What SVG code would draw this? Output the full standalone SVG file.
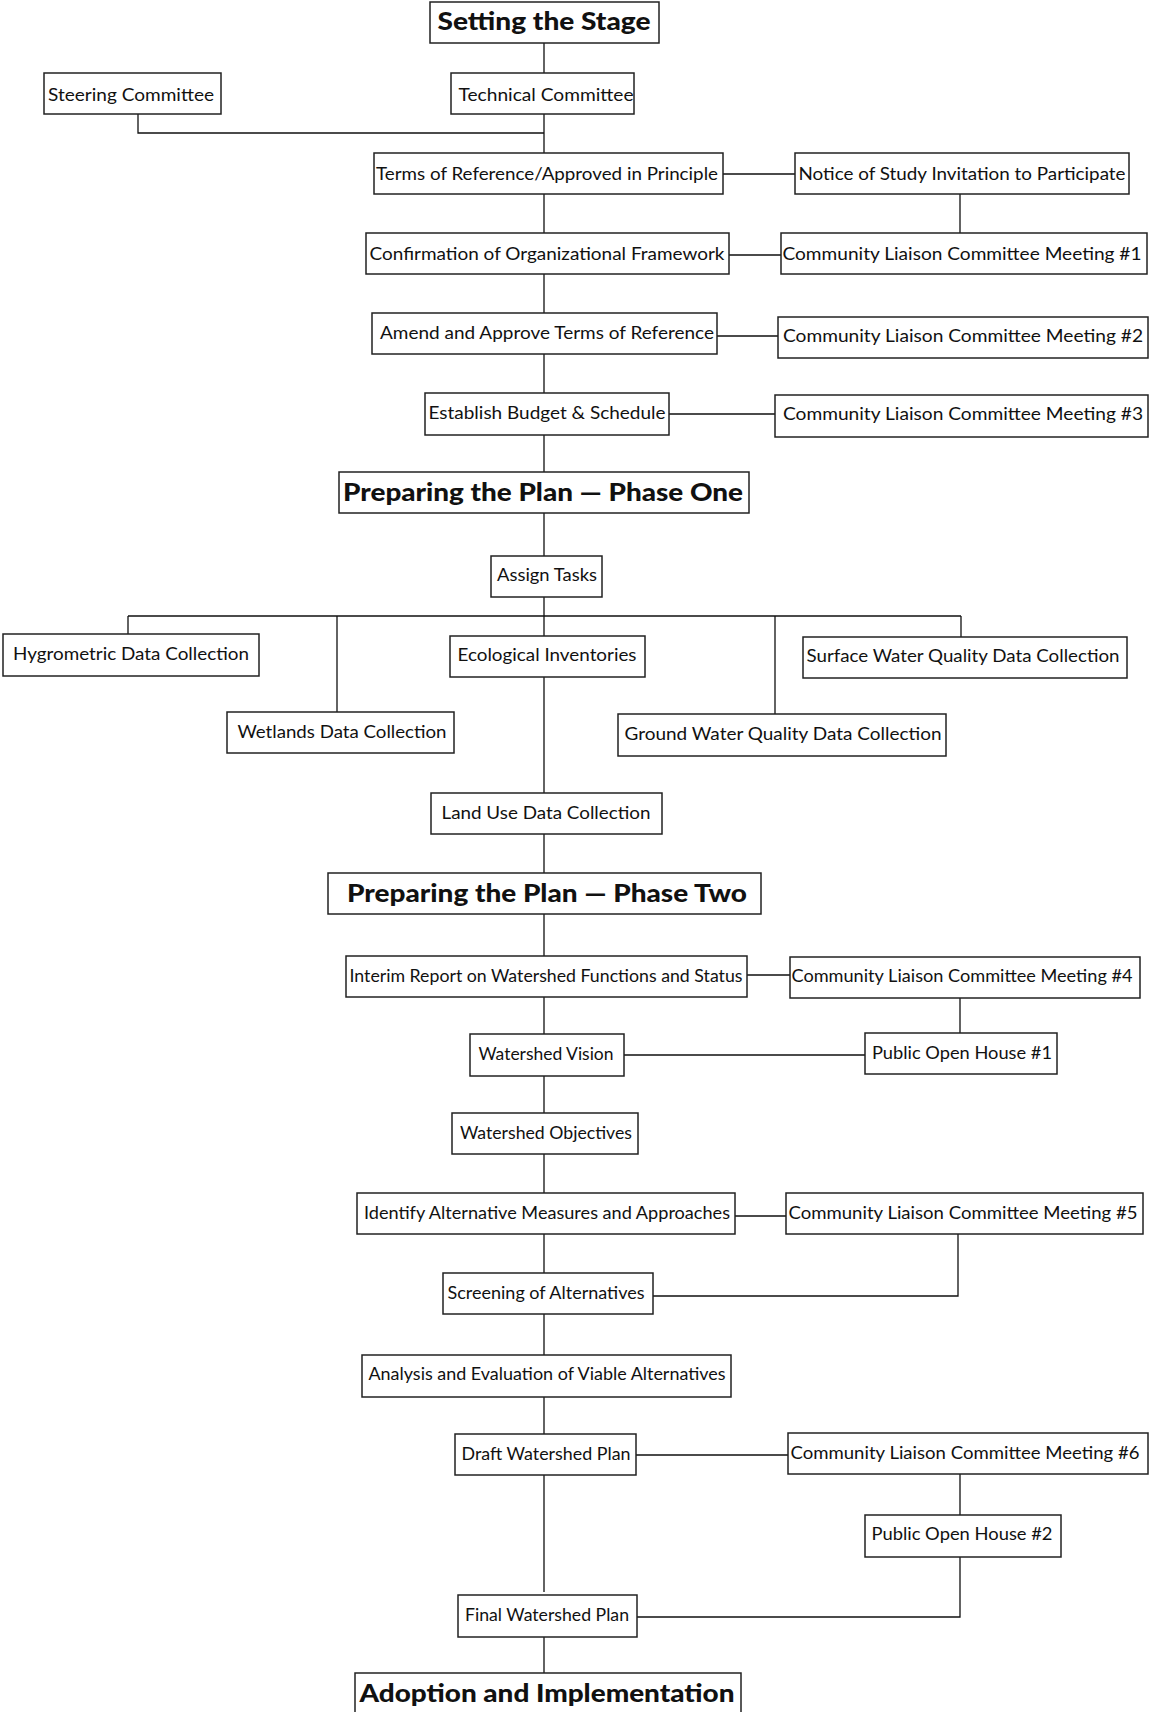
<svg xmlns="http://www.w3.org/2000/svg" width="1149" height="1712" viewBox="0 0 1149 1712">
<style>
rect{fill:#fff;stroke:#222;stroke-width:1.5}
text{font-family:Lato,"Open Sans","Liberation Sans",sans-serif;font-size:18px;fill:#111;text-anchor:middle}
text.t{font-weight:900;font-size:24px}
#connectors path{fill:none;stroke:#111;stroke-width:1.3}
</style>
<rect x="0" y="0" width="1149" height="1712" style="fill:#fff;stroke:none"/>
<g id="connectors">
<path d="M544,43V73M544,114V153M138,114V133H544M723,174H795M960,194V233M544,194V233M729,255H781M544,274V313M717,336H778M544,354V393M669,414H775M544,435V472M544,513V556M544,597V616M128,616H961M128,616V634M337,616V712M544,616V636M775,616V714M961,616V637M544,677V793M544,834V873M544,914V956M747,975H790M960,998V1033M544,997V1034M624,1055H865M544,1076V1113M544,1154V1193M735,1216H786M958,1234V1296H653M544,1234V1273M544,1314V1355M544,1397V1434M636,1455H788M960,1474V1515M544,1475V1592M960,1557V1617H637M544,1637V1673"/>
</g>
<g id="n-setting"><rect x="430" y="2" width="229" height="41"/><text class="t" x="544" y="30" textLength="213" lengthAdjust="spacingAndGlyphs">Setting the Stage</text></g>
<g id="n-steering"><rect x="44" y="73" width="177" height="41"/><text x="131" y="101" textLength="166" lengthAdjust="spacingAndGlyphs">Steering Committee</text></g>
<g id="n-technical"><rect x="451" y="73" width="183" height="41"/><text x="546" y="101" textLength="175" lengthAdjust="spacingAndGlyphs">Technical Committee</text></g>
<g id="n-terms"><rect x="374" y="153" width="349" height="41"/><text x="547" y="180" textLength="342" lengthAdjust="spacingAndGlyphs">Terms of Reference/Approved in Principle</text></g>
<g id="n-notice"><rect x="795" y="153" width="334" height="41"/><text x="962" y="180" textLength="327" lengthAdjust="spacingAndGlyphs">Notice of Study Invitation to Participate</text></g>
<g id="n-confirm"><rect x="366" y="233" width="363" height="41"/><text x="547" y="260" textLength="355" lengthAdjust="spacingAndGlyphs">Confirmation of Organizational Framework</text></g>
<g id="n-clc1"><rect x="781" y="233" width="366" height="41"/><text x="962" y="260" textLength="359" lengthAdjust="spacingAndGlyphs">Community Liaison Committee Meeting #1</text></g>
<g id="n-amend"><rect x="372" y="313" width="345" height="41"/><text x="547" y="339" textLength="334" lengthAdjust="spacingAndGlyphs">Amend and Approve Terms of Reference</text></g>
<g id="n-clc2"><rect x="778" y="317" width="370" height="41"/><text x="963" y="342" textLength="360" lengthAdjust="spacingAndGlyphs">Community Liaison Committee Meeting #2</text></g>
<g id="n-budget"><rect x="425" y="393" width="244" height="42"/><text x="547" y="419" textLength="237" lengthAdjust="spacingAndGlyphs">Establish Budget &amp; Schedule</text></g>
<g id="n-clc3"><rect x="775" y="395" width="373" height="42"/><text x="963" y="420" textLength="360" lengthAdjust="spacingAndGlyphs">Community Liaison Committee Meeting #3</text></g>
<g id="n-phase1"><rect x="339" y="472" width="410" height="41"/><text class="t" x="543" y="501" textLength="400" lengthAdjust="spacingAndGlyphs">Preparing the Plan — Phase One</text></g>
<g id="n-assign"><rect x="491" y="556" width="111" height="41"/><text x="547" y="581" textLength="100" lengthAdjust="spacingAndGlyphs">Assign Tasks</text></g>
<g id="n-hygro"><rect x="3" y="634" width="256" height="42"/><text x="131" y="660" textLength="236" lengthAdjust="spacingAndGlyphs">Hygrometric Data Collection</text></g>
<g id="n-ecol"><rect x="450" y="636" width="195" height="41"/><text x="547" y="661" textLength="179" lengthAdjust="spacingAndGlyphs">Ecological Inventories</text></g>
<g id="n-surface"><rect x="803" y="637" width="324" height="41"/><text x="963" y="662" textLength="313" lengthAdjust="spacingAndGlyphs">Surface Water Quality Data Collection</text></g>
<g id="n-wetlands"><rect x="227" y="712" width="227" height="41"/><text x="342" y="738" textLength="209" lengthAdjust="spacingAndGlyphs">Wetlands Data Collection</text></g>
<g id="n-ground"><rect x="618" y="714" width="328" height="42"/><text x="783" y="740" textLength="317" lengthAdjust="spacingAndGlyphs">Ground Water Quality Data Collection</text></g>
<g id="n-landuse"><rect x="431" y="793" width="231" height="41"/><text x="546" y="819" textLength="209" lengthAdjust="spacingAndGlyphs">Land Use Data Collection</text></g>
<g id="n-phase2"><rect x="328" y="873" width="433" height="41"/><text class="t" x="547" y="902" textLength="400" lengthAdjust="spacingAndGlyphs">Preparing the Plan — Phase Two</text></g>
<g id="n-interim"><rect x="346" y="956" width="401" height="41"/><text x="546" y="982" textLength="393" lengthAdjust="spacingAndGlyphs">Interim Report on Watershed Functions and Status</text></g>
<g id="n-clc4"><rect x="790" y="957" width="350" height="41"/><text x="962" y="982" textLength="341" lengthAdjust="spacingAndGlyphs">Community Liaison Committee Meeting #4</text></g>
<g id="n-vision"><rect x="470" y="1034" width="154" height="42"/><text x="546" y="1060" textLength="135" lengthAdjust="spacingAndGlyphs">Watershed Vision</text></g>
<g id="n-poh1"><rect x="865" y="1033" width="192" height="41"/><text x="962" y="1059" textLength="180" lengthAdjust="spacingAndGlyphs">Public Open House #1</text></g>
<g id="n-objectives"><rect x="452" y="1113" width="186" height="41"/><text x="546" y="1139" textLength="172" lengthAdjust="spacingAndGlyphs">Watershed Objectives</text></g>
<g id="n-identify"><rect x="357" y="1193" width="378" height="41"/><text x="547" y="1219" textLength="366" lengthAdjust="spacingAndGlyphs">Identify Alternative Measures and Approaches</text></g>
<g id="n-clc5"><rect x="786" y="1193" width="357" height="41"/><text x="963" y="1219" textLength="349" lengthAdjust="spacingAndGlyphs">Community Liaison Committee Meeting #5</text></g>
<g id="n-screening"><rect x="443" y="1273" width="210" height="41"/><text x="546" y="1299" textLength="197" lengthAdjust="spacingAndGlyphs">Screening of Alternatives</text></g>
<g id="n-analysis"><rect x="362" y="1355" width="369" height="42"/><text x="547" y="1380" textLength="357" lengthAdjust="spacingAndGlyphs">Analysis and Evaluation of Viable Alternatives</text></g>
<g id="n-draft"><rect x="455" y="1434" width="181" height="41"/><text x="546" y="1460" textLength="169" lengthAdjust="spacingAndGlyphs">Draft Watershed Plan</text></g>
<g id="n-clc6"><rect x="788" y="1433" width="360" height="41"/><text x="965" y="1459" textLength="349" lengthAdjust="spacingAndGlyphs">Community Liaison Committee Meeting #6</text></g>
<g id="n-poh2"><rect x="865" y="1515" width="196" height="42"/><text x="962" y="1540" textLength="181" lengthAdjust="spacingAndGlyphs">Public Open House #2</text></g>
<g id="n-final"><rect x="458" y="1595" width="179" height="42"/><text x="547" y="1621" textLength="164" lengthAdjust="spacingAndGlyphs">Final Watershed Plan</text></g>
<g id="n-adoption"><rect x="355" y="1673" width="386" height="40"/><text class="t" x="547" y="1702" textLength="375" lengthAdjust="spacingAndGlyphs">Adoption and Implementation</text></g>
</svg>
